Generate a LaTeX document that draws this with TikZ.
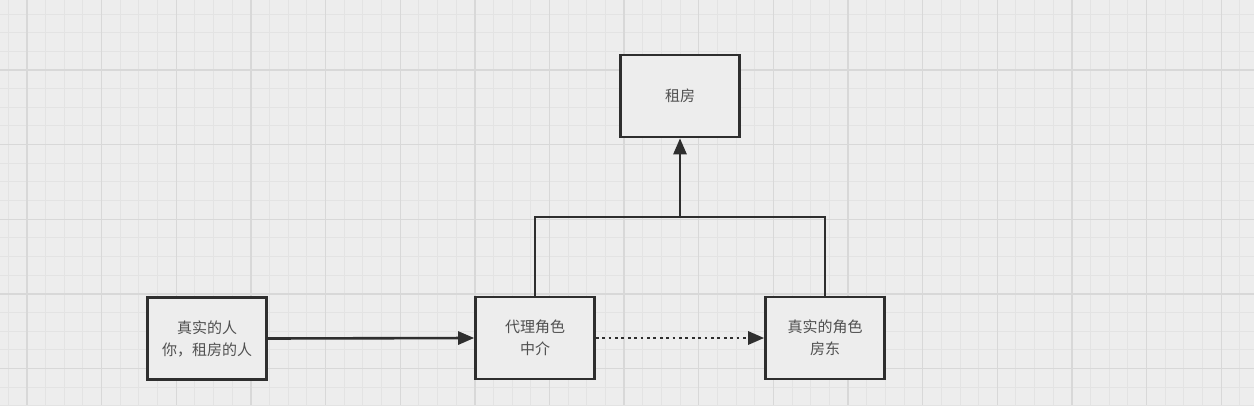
\documentclass[tikz,border=0pt]{standalone}
\usepackage{fontspec}
\newfontfamily\cjk{Noto Sans CJK SC}
\usetikzlibrary{arrows.meta}
\definecolor{bg}{HTML}{EDEDED}
\definecolor{gminor}{HTML}{E3E3E3}
\definecolor{gmajor}{HTML}{D8D8D8}
\definecolor{edge}{HTML}{2E2E2E}
\definecolor{txt}{HTML}{505050}
\tikzset{
  box/.style={draw=edge, line width=2.6pt, fill=bg, minimum width=119pt, minimum height=82pt,
    inner sep=0pt, align=center, text=txt, font=\cjk\fontsize{15pt}{22pt}\selectfont},
  conn/.style={draw=edge, line width=2.6pt},
  arr/.style={conn, -{Triangle[length=16pt,width=13pt]}},
  dotconn/.style={draw=edge, line width=2.8pt, dash pattern=on 2.8pt off 3.6pt, -{Triangle[length=16pt,width=13pt]}},
  minorline/.style={draw=gminor, line width=1pt},
  majorline/.style={draw=gmajor, line width=1.4pt}
}
\begin{document}
\begin{tikzpicture}[x=1pt,y=-1pt]
\fill[bg] (0,0) rectangle (1254,405);
\useasboundingbox (0,0) rectangle (1254,405);
\foreach \i in {0,...,67} \draw[minorline] (8.34+18.66*\i,0) -- (8.34+18.66*\i,405);
\foreach \i in {0,...,21} \draw[minorline] (0,14.02+18.66*\i) -- (1254,14.02+18.66*\i);
\foreach \i in {0,...,16} \draw[majorline] (27+74.64*\i,0) -- (27+74.64*\i,405);
\foreach \i in {0,...,5} \draw[majorline] (0,-4.6+74.64*\i) -- (1254,-4.6+74.64*\i);

\node[box] (person) at (207,338.5) {真实的人\\你，租房的人};
\node[box] (agent) at (535,338) {代理角色\\中介};
\node[box] (owner) at (825,338) {真实的角色\\房东};
\node[box] (rent) at (680,96) {租房};

\coordinate (j) at (680,217);
\draw[conn] (agent.north) |- (j) -| (owner.north);
\draw[arr] (j) -- (rent.south);
\draw[arr] (person.east) -- (agent.west);
\draw[dotconn] (agent.east) -- (owner.west);
\end{tikzpicture}
\end{document}
